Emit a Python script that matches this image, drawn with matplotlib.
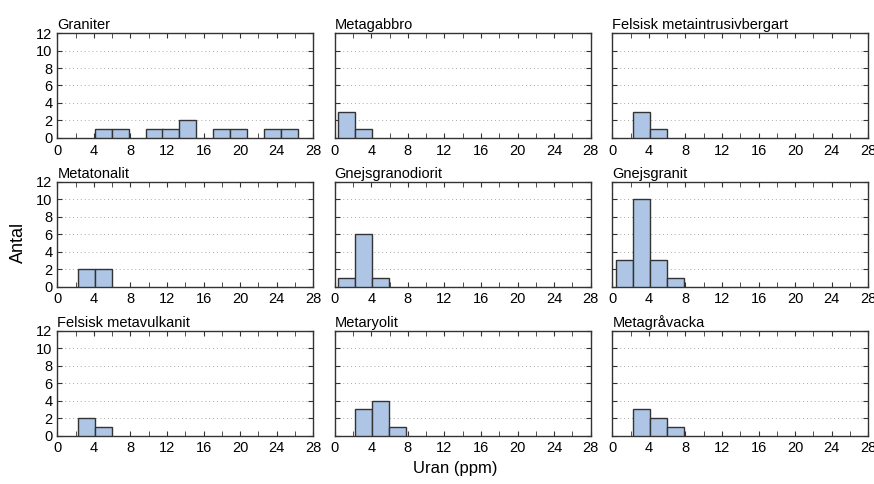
import matplotlib
matplotlib.use("Agg")
import matplotlib.pyplot as plt
from matplotlib.ticker import MultipleLocator

plt.rcParams['font.family'] = ['Liberation Sans', 'DejaVu Sans']

# bin left edges (ppm) and width
bin_left = [0.37, 2.23, 4.08, 5.94, 7.79, 9.65, 11.5, 13.36, 15.21, 17.07, 18.92, 20.78, 22.63, 24.49]
bin_width = 1.855

titles = ['Graniter', 'Metagabbro', 'Felsisk metaintrusivbergart',
          'Metatonalit', 'Gnejsgranodiorit', 'Gnejsgranit',
          'Felsisk metavulkanit', 'Metaryolit', 'Metagråvacka']

graniter = [0, 0, 1, 1, 0, 1, 1, 2, 0, 1, 1, 0, 1, 1]
metagabbro = [3, 1, 0, 0, 0, 0, 0, 0, 0, 0, 0, 0, 0, 0]
felsisk_metaintrusiv = [0, 3, 1, 0, 0, 0, 0, 0, 0, 0, 0, 0, 0, 0]
metatonalit = [0, 2, 2, 0, 0, 0, 0, 0, 0, 0, 0, 0, 0, 0]
gnejsgranodiorit = [1, 6, 1, 0, 0, 0, 0, 0, 0, 0, 0, 0, 0, 0]
gnejsgranit = [3, 10, 3, 1, 0, 0, 0, 0, 0, 0, 0, 0, 0, 0]
felsisk_metavulkanit = [0, 2, 1, 0, 0, 0, 0, 0, 0, 0, 0, 0, 0, 0]
metaryolit = [0, 3, 4, 1, 0, 0, 0, 0, 0, 0, 0, 0, 0, 0]
metagravacka = [0, 3, 2, 1, 0, 0, 0, 0, 0, 0, 0, 0, 0, 0]

counts = [graniter, metagabbro, felsisk_metaintrusiv,
          metatonalit, gnejsgranodiorit, gnejsgranit,
          felsisk_metavulkanit, metaryolit, metagravacka]

fig = plt.figure(figsize=(8.74, 4.84), dpi=100)

lefts = [0.0656, 0.383, 0.7006]
bottoms = [0.7149, 0.4077, 0.0998]
w, h = 0.2929, 0.2169

for i, (title, c) in enumerate(zip(titles, counts)):
    row, col = divmod(i, 3)
    ax = fig.add_axes([lefts[col], bottoms[row], w, h])
    xs = [b for b, n in zip(bin_left, c) if n > 0]
    ns = [n for n in c if n > 0]
    ax.bar(xs, ns, width=bin_width, align='edge', color='#aec5e6',
           edgecolor='#333333', linewidth=1.0, zorder=3)
    ax.set_xlim(0, 28)
    ax.set_ylim(0, 12)
    ax.xaxis.set_major_locator(MultipleLocator(4))
    ax.xaxis.set_minor_locator(MultipleLocator(2))
    ax.yaxis.set_major_locator(MultipleLocator(2))
    ax.tick_params(which='both', direction='in', top=True, right=True,
                   labelsize=10.5, color='#333333')
    ax.tick_params(axis='x', pad=4)
    ax.tick_params(axis='y', pad=3.5)
    ax.tick_params(which='major', length=3.5)
    ax.tick_params(which='minor', length=3.5)
    ax.grid(axis='y', linestyle=(0, (1, 3)), color='#aaaaaa', linewidth=0.7, zorder=0)
    for s in ax.spines.values():
        s.set_color('#333333')
        s.set_linewidth(1.0)
    if col != 0:
        ax.set_yticklabels([])
    ax.set_title(title, loc='left', fontsize=10.5, pad=3)

fig.text(0.021, 0.5, 'Antal', rotation=90, va='center', ha='center', fontsize=13)
fig.text(0.521, 0.033, 'Uran (ppm)', va='center', ha='center', fontsize=12)

fig.savefig('out.png', dpi=100)
